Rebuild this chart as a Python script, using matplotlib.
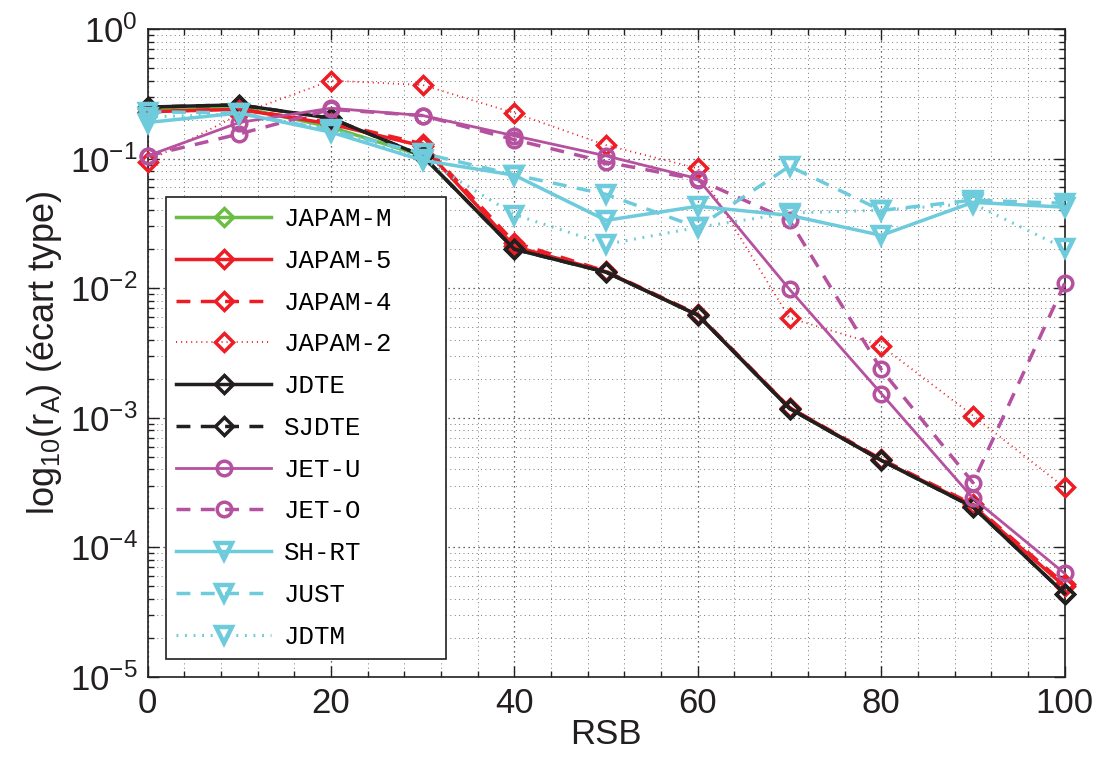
import numpy as np
import matplotlib
matplotlib.use("Agg")
import matplotlib.pyplot as plt
from matplotlib.ticker import MultipleLocator, LogLocator, NullFormatter

plt.rcParams['font.family'] = ['Liberation Sans', 'DejaVu Sans']
plt.rcParams['mathtext.fontset'] = 'custom'
plt.rcParams['mathtext.rm'] = 'Liberation Sans'
plt.rcParams['mathtext.it'] = 'Liberation Sans:italic'
plt.rcParams['mathtext.bf'] = 'Liberation Sans:bold'

rsb = [0, 10, 20, 30, 40, 50, 60, 70, 80, 90, 100]

japam_m = [0.24, 0.25, 0.175, 0.105, 0.020, 0.0133, 0.0062, 0.00118, 4.7e-4, 2.05e-4, 4.4e-5]
japam_5 = [0.23, 0.24, 0.185, 0.125, 0.021, 0.0134, 0.0062, 0.0012, 4.7e-4, 2.1e-4, 5.0e-5]
japam_4 = [0.23, 0.24, 0.19, 0.13, 0.0225, 0.0135, 0.0063, 0.0012, 4.8e-4, 2.15e-4, 5.2e-5]
japam_2 = [0.095, 0.22, 0.40, 0.37, 0.225, 0.127, 0.084, 0.0059, 0.0036, 0.00104, 2.9e-4]
jdte = [0.25, 0.26, 0.205, 0.105, 0.0200, 0.0133, 0.0062, 0.00118, 4.7e-4, 2.05e-4, 4.4e-5]
sjdte = [0.25, 0.26, 0.205, 0.105, 0.0200, 0.0133, 0.0062, 0.00118, 4.7e-4, 2.05e-4, 4.4e-5]
jet_u = [0.105, 0.19, 0.245, 0.215, 0.15, 0.105, 0.070, 0.0098, 0.00154, 2.4e-4, 6.3e-5]
jet_o = [0.105, 0.155, 0.24, 0.215, 0.14, 0.094, 0.069, 0.0334, 0.00236, 3.16e-4, 0.0109]
sh_rt = [0.19, 0.225, 0.16, 0.097, 0.0745, 0.0334, 0.0429, 0.0365, 0.0256, 0.046, 0.0422]
just = [0.23, 0.225, 0.165, 0.11, 0.075, 0.053, 0.0295, 0.0873, 0.0399, 0.0478, 0.0452]
jdtm = [0.21, 0.22, 0.17, 0.10, 0.037, 0.0218, 0.0295, 0.038, 0.040, 0.045, 0.0203]

labels = ['JAPAM-M', 'JAPAM-5', 'JAPAM-4', 'JAPAM-2', 'JDTE', 'SJDTE',
          'JET-U', 'JET-O', 'SH-RT', 'JUST', 'JDTM']

GREEN = '#6cbd45'
RED = '#ee1c24'
BLACK = '#231f20'
MAG = '#b5519f'
CYAN = '#6dcbdc'

dash = (0, (4, 3))
dot = (0, (0.6, 2.2))

series = [
    (japam_m, GREEN, '-', 'D', 2.5),
    (japam_5, RED, '-', 'D', 2.5),
    (japam_4, RED, dash, 'D', 2.5),
    (japam_2, RED, dot, 'D', 1.3),
    (jdte, BLACK, '-', 'D', 2.5),
    (sjdte, BLACK, dash, 'D', 2.5),
    (jet_u, MAG, '-', 'o', 2.0),
    (jet_o, MAG, dash, 'o', 2.5),
    (sh_rt, CYAN, '-', 'v', 2.5),
    (just, CYAN, dash, 'v', 2.5),
    (jdtm, CYAN, dot, 'v', 2.2),
]

fig = plt.figure(figsize=(11.01, 7.60), dpi=100)
ax = fig.add_axes([0.134, 0.1092, 0.833, 0.8526])

for (vals, col, ls, mk, lw), lab in zip(series, labels):
    ms = {'D': 9.5, 'o': 10.5, 'v': 12}[mk]
    mew = 3.2 if mk == 'v' else 2.5
    ax.plot(rsb, vals, color=col, linestyle=ls, linewidth=lw, marker=mk,
            markersize=ms, markerfacecolor='none', markeredgecolor=col,
            markeredgewidth=mew, label=lab, clip_on=False, zorder=3)

ax.set_yscale('log')
ax.set_xlim(0, 100)
ax.set_ylim(1e-5, 1)
ax.xaxis.set_major_locator(MultipleLocator(20))
ax.xaxis.set_minor_locator(MultipleLocator(4))
ax.yaxis.set_major_locator(LogLocator(base=10, numticks=10))
ax.yaxis.set_minor_locator(LogLocator(base=10, subs=np.arange(2, 10), numticks=20))
ax.yaxis.set_minor_formatter(NullFormatter())

ax.grid(True, which='major', linestyle=(0, (1, 3)), color='#333333', linewidth=0.9)
ax.grid(True, which='minor', linestyle=(0, (1, 3.5)), color='#777777', linewidth=0.7)
ax.set_axisbelow(True)

ax.tick_params(which='both', direction='in', top=True, right=True, labelsize=25,
               colors=BLACK, width=1.0)
ax.tick_params(which='major', length=8, pad=7)
ax.tick_params(which='minor', length=4)
for s in ax.spines.values():
    s.set_linewidth(1.2)
    s.set_color(BLACK)

ax.set_xlabel('RSB', fontsize=25, labelpad=-1, color=BLACK)
ax.set_ylabel(r'log$_{10}$(r$_{\mathrm{A}}$) (écart type)', fontsize=26, labelpad=4, color=BLACK)

leg = ax.legend(loc='lower left', bbox_to_anchor=(0.02, 0.028, 0.305, 0.72),
                mode='expand', borderaxespad=0,
                prop={'family': 'Liberation Mono', 'size': 18.5},
                handlelength=3.7, handletextpad=0.5, labelspacing=0.69,
                borderpad=0.4, frameon=True, fancybox=False, framealpha=1,
                edgecolor=BLACK)
leg.get_frame().set_linewidth(1.2)
leg.set_zorder(5)

fig.savefig('out.png', dpi=100)
